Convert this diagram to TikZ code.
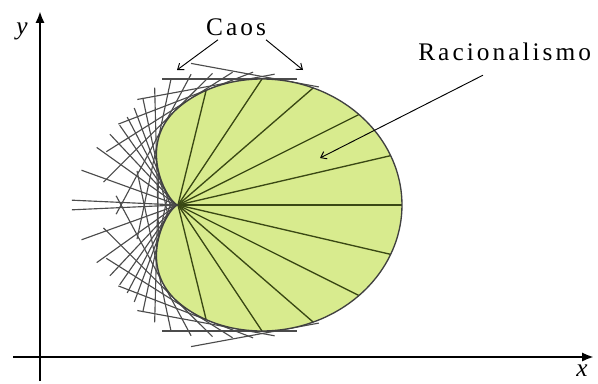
\documentclass[tikz,border=0pt]{standalone}
\usepackage{fontspec}
\setmainfont{Liberation Serif}
\usetikzlibrary{arrows.meta, calc}
\definecolor{leafgreen}{RGB}{216,235,142}
\definecolor{chordgreen}{RGB}{58,72,20}

% cardioid size (x and y half axes)
\def\ca{112}
\def\cb{97}

\begin{document}
\begin{tikzpicture}[x=0.75pt, y=0.75pt,
    axis/.style={line width=2.2pt, -{Latex[length=9pt, width=7pt]}},
    caosline/.style={black!70, line width=0.85pt},
    chord/.style={chordgreen, line width=1pt},
    rim/.style={black!75, line width=1pt},
    pointer/.style={-{Straight Barb[length=4pt, width=6pt]}, line width=0.7pt},
    lbl/.style={inner sep=0pt, font=\fontsize{19}{22}\selectfont\addfontfeature{LetterSpace=12}},
    axlbl/.style={inner sep=0pt, font=\fontsize{19}{20}\selectfont\itshape}
]
\useasboundingbox (0,0) rectangle (598,383);

% cusp of the cardioid
\coordinate (C) at (178,178);

% Caos : tangent lines on the left
\foreach \t in {52,60,...,172,179} {
  \foreach \s in {1,-1} {
    \pgfmathsetmacro{\cc}{cos(\t)}
    \pgfmathsetmacro{\cpx}{\cc<0 ? 178+\ca*(\cc+1.5*\cc*\cc+0.5*\cc*\cc*\cc) : 178+\ca*(\cc+\cc*\cc)}
    \pgfmathsetmacro{\cpy}{178+\s*\cb*(1+\cc)*sin(\t)}
    \pgfmathsetmacro{\ctx}{\cc<0 ? -\ca*sin(\t)*(1+3*\cc+1.5*\cc*\cc) : -\ca*sin(\t)*(1+2*\cc)}
    \pgfmathsetmacro{\cty}{\s*\cb*(cos(\t)+cos(2*\t))}
    \pgfmathsetmacro{\ctn}{veclen(\ctx,\cty)}
    \pgfmathsetmacro{\cla}{30+(\t-52)*0.6}
    \draw[caosline] ({\cpx-\cla*\ctx/\ctn},{\cpy-\cla*\cty/\ctn}) -- ({\cpx+100*\ctx/\ctn},{\cpy+100*\cty/\ctn});
  }
}

% Racionalismo : filled cardioid with chords from the cusp
\fill[leafgreen] plot[domain=0:360, samples=160, smooth] ({178+\ca*(1+cos(\x))*cos(\x)*(1+0.5*min(cos(\x),0))},{178+\cb*(1+cos(\x))*sin(\x)}) -- cycle;
\foreach \t in {-78,-60,-45,-30,-15,0,15,30,45,60,78}
  \draw[chord] (C) -- ({178+\ca*(1+cos(\t))*cos(\t)},{178+\cb*(1+cos(\t))*sin(\t)});
\draw[rim] plot[domain=0:360, samples=160, smooth] ({178+\ca*(1+cos(\x))*cos(\x)*(1+0.5*min(cos(\x),0))},{178+\cb*(1+cos(\x))*sin(\x)}) -- cycle;

% Axes
\coordinate (xs) at (13,26);
\coordinate (xe) at (594,26);
\coordinate (ys) at (40,2);
\coordinate (ye) at (40,372);
\draw[axis] (xs) -- (xe);
\draw[axis] (ys) -- (ye);
\node[axlbl] (ylab) at (22,352) {y};
\node[axlbl] (xlab) at (582,12) {x};

% Labels
\node[lbl] (caos) at (236,356) {Caos};
\coordinate (caosL) at (177,313);
\coordinate (caosR) at (303,313);
\draw[pointer] ($(caos.south)+(-18,-4)$) -- (caosL);
\draw[pointer] ($(caos.south)+(30,-4)$) -- (caosR);

\node[lbl, anchor=west] (racio) at (418,331) {Racionalismo};
\coordinate (racioE) at (320,225);
\draw[pointer] ($(racio.south west)+(65,-14)$) -- (racioE);
\end{tikzpicture}
\end{document}
